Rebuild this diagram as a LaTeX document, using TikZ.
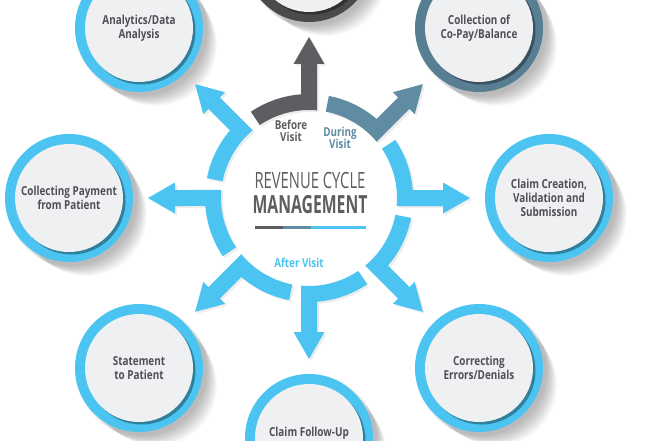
\documentclass[tikz,border=0pt]{standalone}
\usepackage{fontspec}
\setmainfont{Open Sans}
\newfontfamily\labfont{Open Sans}[FakeStretch=0.8]
\newfontfamily\thinfont{Open Sans}[FakeStretch=0.66]
\newfontfamily\boldcond{Open Sans}[FakeStretch=0.63]
\usetikzlibrary{calc}
\definecolor{cblue}{HTML}{4BC4F1}
\definecolor{csteel}{HTML}{5F8CA2}
\definecolor{cdark}{HTML}{5D5E62}
\definecolor{ringsteel}{HTML}{577E92}
\definecolor{ringdark}{HTML}{4B4B4D}
\definecolor{ctext}{HTML}{4F5054}
\definecolor{discfill}{HTML}{EEF0F2}
\tikzset{
  disc/.style={circle, minimum size=108pt, inner sep=0pt, fill=discfill, text=ctext,
    font=\labfont\bfseries\fontsize{12.4}{14}\selectfont, align=center},
  visit/.style={font=\labfont\bfseries\fontsize{12.3}{12.5}\selectfont, align=center},
}
\newcommand\segpath{(34:88pt) -- (34:104pt) arc[start angle=34, end angle=4.41, radius=104pt]
  -- (134pt,8pt) -- (134pt,15.5pt) -- (161pt,0pt) -- (134pt,-15.5pt) -- (134pt,-8pt)
  -- (-5.22:88pt) arc[start angle=-5.22, end angle=34, radius=88pt] -- cycle}
\newcommand\bubble[4]{%
  \foreach \k in {0,...,11}{%
    \fill[black, opacity=0.024] ($#2+({2+1.4*\k},{-2-1.4*\k})$) circle[radius={(66-0.5*\k)*1pt}];}
  \fill[#3] #2 circle[radius=64pt];
  \fill[black, opacity=0.35] ($#2+(2.5,-2.5)$) circle[radius=54pt];
  \node[disc] (#1) at #2 {#4};
}
\begin{document}
\begin{tikzpicture}[x=1pt,y=1pt]
\fill[white] (0,0) rectangle (660,440);
\useasboundingbox (0,0) rectangle (660,440);

% outer bubbles
\bubble{top}{(309,482)}{ringdark}{}
\bubble{copay}{(479,412)}{ringsteel}{Collection of\\Co-Pay/Balance}
\bubble{claim}{(549,242)}{cblue}{Claim Creation,\\Validation and\\Submission}
\bubble{errors}{(479,72)}{cblue}{Correcting\\Errors/Denials}
\bubble{follow}{(309,2)}{cblue}{}
\node[text=ctext, font=\labfont\bfseries\fontsize{12.4}{14}\selectfont, anchor=base] (followtext) at (309,4) {Claim Follow-Up};
\bubble{statement}{(139,72)}{cblue}{Statement\\to Patient}
\bubble{payment}{(69,242)}{cblue}{Collecting Payment\\from Patient}
\bubble{analytics}{(139,412)}{cblue}{Analytics/Data\\Analysis}

% ring segments with arrows
\foreach \a/\c in {90/cdark, 45/csteel, 0/cblue, -45/cblue, -90/cblue, -135/cblue, 180/cblue, 135/cblue}{%
  \begin{scope}[shift={(311,240)}, rotate=\a]
    \fill[black, opacity=0.07] \segpath;
  \end{scope}
  \begin{scope}[shift={(309,242)}, rotate=\a]
    \fill[\c] \segpath;
  \end{scope}
}

% centre title
\node[text=cdark, font=\thinfont\fontsize{22.4}{24}\selectfont, inner sep=0pt] (title1) at (310,260) {REVENUE CYCLE};
\node[text=cdark, font=\boldcond\bfseries\fontsize{25}{27}\selectfont, inner sep=0pt] (title2) at (310,235) {MANAGEMENT};
\fill[cdark] (255,211) rectangle (283,214);
\fill[csteel] (283,211) rectangle (311,214);
\fill[cblue] (311,211) rectangle (366,214);

% phase labels
\node[visit, text=cdark] (before) at (291,309) {Before\\Visit};
\node[visit, text=csteel] (during) at (340,302) {During\\Visit};
\node[visit, text=cblue] (after) at (299,177) {After Visit};
\end{tikzpicture}
\end{document}
